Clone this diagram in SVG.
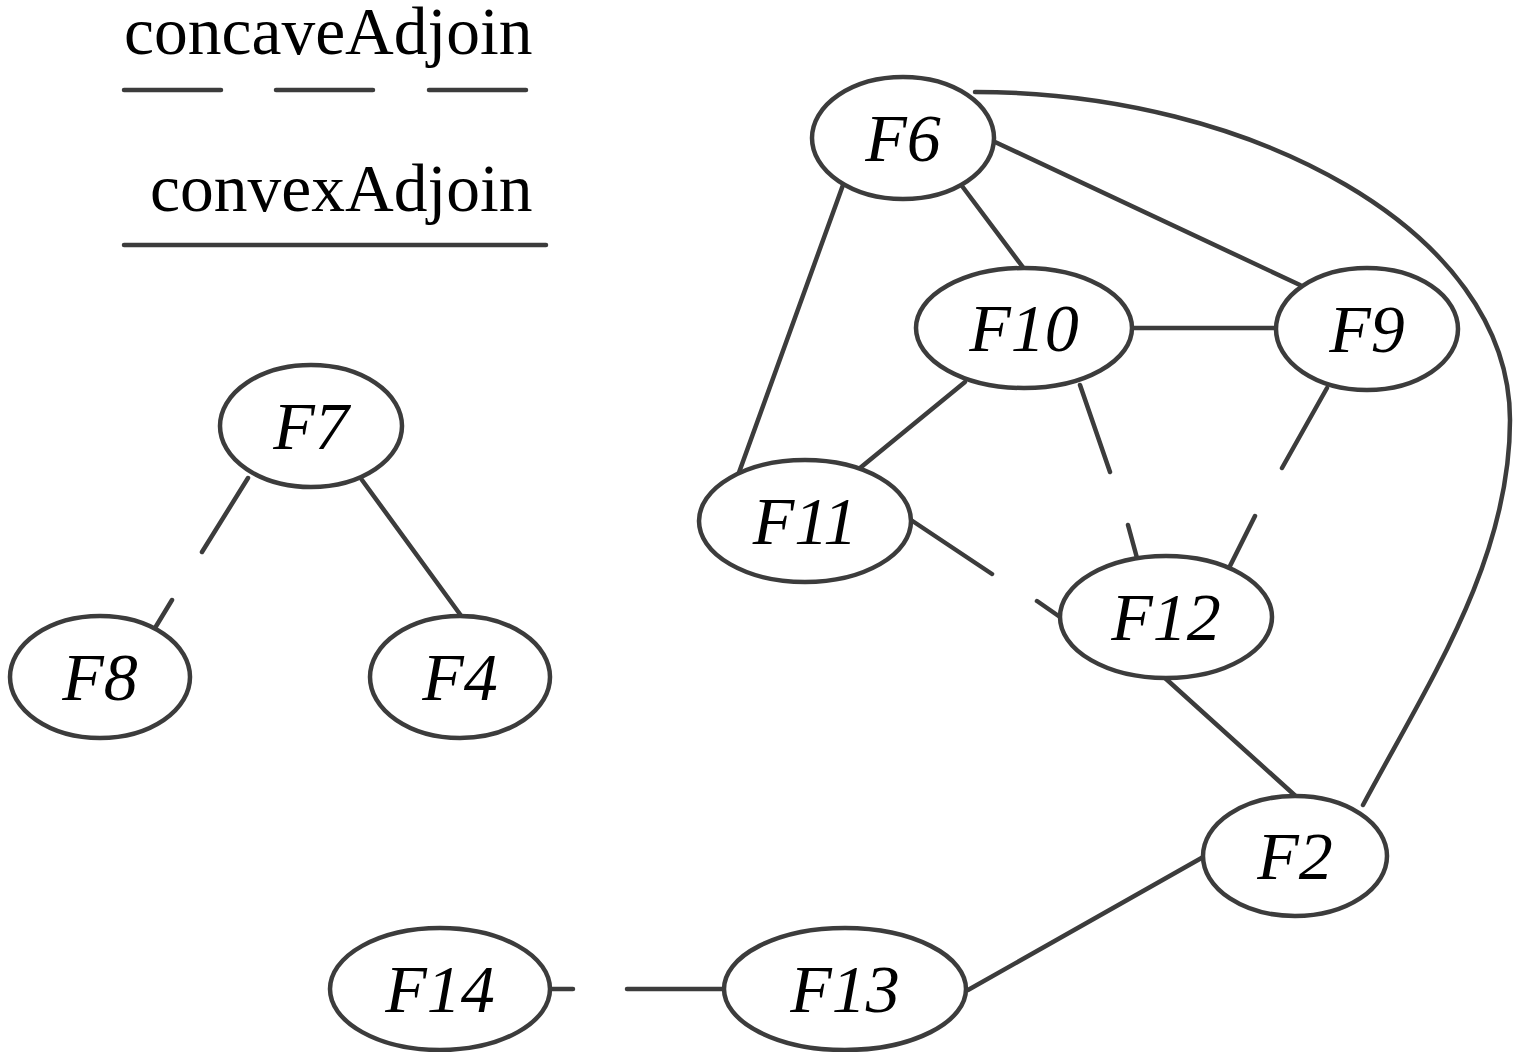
<svg xmlns="http://www.w3.org/2000/svg" width="1514" height="1052" viewBox="0 0 1514 1052">
<style>
.n{fill:#fff;stroke:#3c3c3c;stroke-width:4.5}
.t{font-family:"Liberation Serif","Times New Roman",serif;font-style:italic;font-size:68px;fill:#000;text-anchor:middle}
.e{fill:none;stroke:#3c3c3c;stroke-width:4.5;stroke-linecap:round}
.lg{font-family:"Liberation Serif","Times New Roman",serif;font-size:67.5px;fill:#000}
</style>
<rect width="1514" height="1052" fill="#fff"/>
<g id="legend">
<text class="lg" x="124" y="54">concaveAdjoin</text>
<path class="e" d="M124,90H221M276,90H373M429,90H526"/>
<text class="lg" x="150" y="211">convexAdjoin</text>
<path class="e" d="M124,245H546"/>
</g>
<g id="connectors">
<path class="e" d="M962,186L1025,270"/>
<path class="e" d="M995,142L1300,285"/>
<path class="e" d="M843,185L737,478"/>
<path class="e" d="M975,92C1250,92 1510,230 1510,420C1510,560 1430,680 1363,805"/>
<path class="e" d="M1133,328H1276"/>
<path class="e" d="M965,382L860,468"/>
<path class="e" d="M1080,385L1110,472M1128,525L1137,558"/>
<path class="e" d="M1327,388L1282,468M1255,516L1230,566"/>
<path class="e" d="M911,520L992,574M1037,601L1060,617"/>
<path class="e" d="M1165,678L1300,800"/>
<path class="e" d="M1205,856L968,990"/>
<path class="e" d="M550,989H573M627,989H724"/>
<path class="e" d="M248,478L202,552M172,600L155,628"/>
<path class="e" d="M362,480L462,617"/>
</g>
<g id="F7"><ellipse class="n" cx="311" cy="426" rx="91" ry="61"/><text class="t" x="311" y="449">F7</text></g>
<g id="F8"><ellipse class="n" cx="100" cy="677" rx="90" ry="61"/><text class="t" x="100" y="700">F8</text></g>
<g id="F4"><ellipse class="n" cx="460" cy="677" rx="90" ry="61"/><text class="t" x="460" y="700">F4</text></g>
<g id="F6"><ellipse class="n" cx="903" cy="138" rx="91" ry="61"/><text class="t" x="903" y="161">F6</text></g>
<g id="F10"><ellipse class="n" cx="1024" cy="328" rx="108" ry="60"/><text class="t" x="1024" y="351">F10</text></g>
<g id="F9"><ellipse class="n" cx="1367" cy="329" rx="91" ry="61"/><text class="t" x="1367" y="352">F9</text></g>
<g id="F11"><ellipse class="n" cx="805" cy="521" rx="106" ry="61"/><text class="t" x="805" y="544">F11</text></g>
<g id="F12"><ellipse class="n" cx="1166" cy="617" rx="106" ry="61"/><text class="t" x="1166" y="640">F12</text></g>
<g id="F2"><ellipse class="n" cx="1295" cy="856" rx="92" ry="60"/><text class="t" x="1295" y="879">F2</text></g>
<g id="F14"><ellipse class="n" cx="440" cy="989" rx="110" ry="61"/><text class="t" x="440" y="1012">F14</text></g>
<g id="F13"><ellipse class="n" cx="845" cy="989" rx="121" ry="61"/><text class="t" x="845" y="1012">F13</text></g>
</svg>
